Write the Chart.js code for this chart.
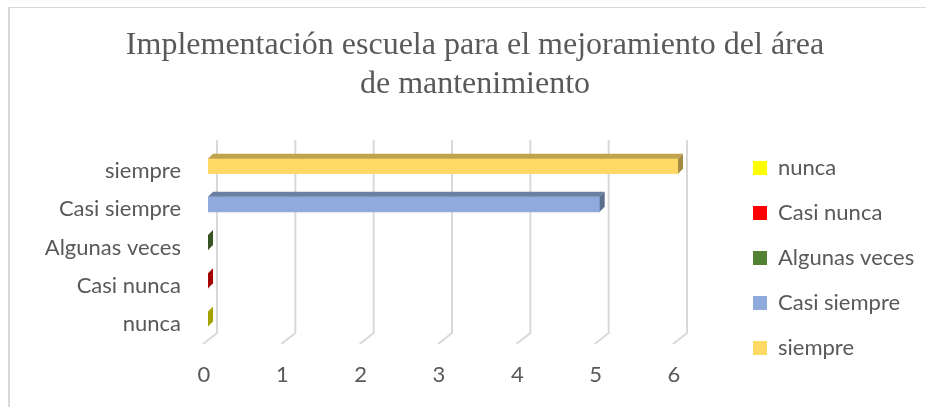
<!DOCTYPE html>
<html><head><meta charset="utf-8">
<script src="https://cdn.jsdelivr.net/npm/chart.js@4.4.1/dist/chart.umd.min.js"></script>
<style>
html,body{margin:0;padding:0;background:#fff;}
#wrap{position:relative;width:926px;height:407px;overflow:hidden;}
#frame{position:absolute;left:8px;top:7px;width:940px;height:420px;border-left:2px solid #d9d9d9;border-top:1px solid #d9d9d9;}
canvas{position:absolute;left:0;top:0;}
</style></head><body>
<div id="wrap"><div id="frame"></div><canvas id="c" width="926" height="407"></canvas></div>
<script>
// ---- data ----
const titleLines = ['Implementación escuela para el mejoramiento del área', 'de mantenimiento'];
const categories = ['siempre', 'Casi siempre', 'Algunas veces', 'Casi nunca', 'nunca'];
const counts = [6, 5, 0, 0, 0];
const seriesNames = ['nunca', 'Casi nunca', 'Algunas veces', 'Casi siempre', 'siempre'];
const seriesColors = ['#FFFF00', '#FF0000', '#548235', '#8FAADC', '#FFD966'];
const xTicks = [0, 1, 2, 3, 4, 5, 6];

// ---- helpers ----
function shade(hex, f) {
  const n = parseInt(hex.slice(1), 16);
  const r = Math.round(((n >> 16) & 255) * f), g = Math.round(((n >> 8) & 255) * f), b = Math.round((n & 255) * f);
  return `rgb(${r},${g},${b})`;
}
const DEPTH = 5;
const TEXT = '#595959';

const gridPlugin = {
  id: 'grid3d',
  beforeDatasetsDraw(chart) {
    const {ctx, chartArea, scales: {x}} = chart;
    ctx.save();
    ctx.strokeStyle = '#d9d9d9';
    ctx.lineWidth = 2;
    for (const v of xTicks) {
      const px = x.getPixelForValue(v);
      ctx.beginPath();
      ctx.moveTo(px + 9, chartArea.top - 7);
      ctx.lineTo(px + 9, chartArea.bottom - 5);
      ctx.lineTo(px - 5, chartArea.bottom + 6);
      ctx.stroke();
    }
    ctx.restore();
  }
};

const bar3dPlugin = {
  id: 'bar3d',
  afterDatasetsDraw(chart) {
    const ctx = chart.ctx;
    ctx.save();
    chart.data.datasets.forEach((ds, i) => {
      const meta = chart.getDatasetMeta(i);
      meta.data.forEach((bar, j) => {
        if (ds.data[j] === null || ds.data[j] === undefined) return;
        const {x, y, base, height} = bar.getProps(['x', 'y', 'base', 'height'], true);
        const top = y - height / 2, bottom = y + height / 2;
        const l = Math.min(base, x), r = Math.max(base, x);
        const c = seriesColors[i];
        ctx.fillStyle = shade(c, 0.75);
        ctx.beginPath();
        ctx.moveTo(l, top); ctx.lineTo(l + DEPTH, top - DEPTH);
        ctx.lineTo(r + DEPTH, top - DEPTH); ctx.lineTo(r, top);
        ctx.closePath(); ctx.fill();
        ctx.fillStyle = shade(c, 0.64);
        ctx.beginPath();
        ctx.moveTo(r, top); ctx.lineTo(r + DEPTH, top - DEPTH);
        ctx.lineTo(r + DEPTH, bottom - DEPTH); ctx.lineTo(r, bottom);
        ctx.closePath(); ctx.fill();
      });
    });
    ctx.restore();
  }
};

const legendPlace = {
  id: 'legendPlace',
  afterLayout(chart) {
    const lg = chart.legend;
    if (!lg) return;
    lg.left = 730; lg.right = 926; lg.width = 196;
    lg.top = 134; lg.bottom = 407; lg.height = 273;
  }
};

function build() {
  Chart.defaults.font.family = 'Lato';
  Chart.defaults.color = TEXT;
  const datasets = seriesNames.map((name, i) => ({
    label: name,
    data: categories.map((c, j) => (c === name ? counts[j] : null)),
    backgroundColor: seriesColors[i],
    borderWidth: 0,
    barThickness: 15
  }));
  new Chart(document.getElementById('c'), {
    type: 'bar',
    data: {labels: categories, datasets},
    options: {
      indexAxis: 'y',
      responsive: false,
      animation: false,
      devicePixelRatio: 1,
      layout: {padding: {left: 24, right: 0, top: 0, bottom: 18}},
      scales: {
        x: {
          stacked: true,
          min: 0, max: 6,
          grid: {display: false, drawTicks: false},
          border: {display: false},
          ticks: {stepSize: 1, font: {size: 22}, color: TEXT, padding: 24, labelOffset: -4},
          afterFit(s) { s.paddingRight = 248; s.height = 51; }
        },
        y: {
          stacked: true,
          grid: {display: false, drawTicks: false},
          border: {display: false},
          ticks: {font: {size: 22}, color: TEXT, padding: 27, labelOffset: 5},
          afterFit(s) { s.width = 184; s.paddingTop = 0; s.paddingBottom = 0; }
        }
      },
      plugins: {
        title: {
          display: true,
          text: titleLines,
          color: TEXT,
          font: {family: 'Liberation Serif', size: 32, weight: 'normal', lineHeight: 1.22},
          padding: {top: 26, bottom: 43}
        },
        legend: {
          position: 'right',
          align: 'start',
          labels: {boxWidth: 14, boxHeight: 14, padding: 23, font: {size: 22}, color: TEXT}
        },
        tooltip: {enabled: false}
      }
    },
    plugins: [gridPlugin, bar3dPlugin, legendPlace]
  });
}
Promise.all([
  document.fonts.load('22px Lato'),
  document.fonts.load('32px "Liberation Serif"')
]).then(build, build);
</script>
</body></html>
